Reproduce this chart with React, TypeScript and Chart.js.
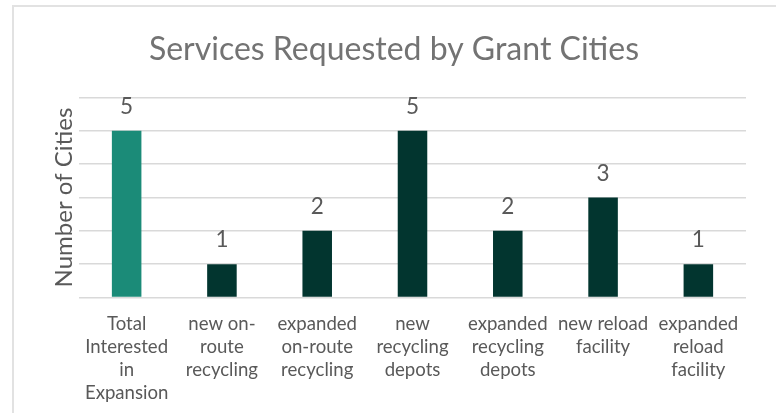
import React, { useEffect, useRef } from "react";
import { Chart, registerables } from "chart.js";

Chart.register(...registerables);

const titleText = "Services Requested by Grant Cities";
const yAxisTitle = "Number of Cities";
const categories: string[][] = [
  ["Total", "Interested", "in", "Expansion"],
  ["new on-", "route", "recycling"],
  ["expanded", "on-route", "recycling"],
  ["new", "recycling", "depots"],
  ["expanded", "recycling", "depots"],
  ["new reload", "facility"],
  ["expanded", "reload", "facility"],
];
const values: number[] = [5, 1, 2, 5, 2, 3, 1];
const barColors: string[] = ["#1b8b78", "#02352f", "#02352f", "#02352f", "#02352f", "#02352f", "#02352f"];
const yMin = 0;
const yMax = 6;
const yStep = 1;

const FONT = "Lato, 'Noto Sans', sans-serif";
const TEXT = "#595959";

const overlayPlugin = {
  id: "overlay",
  afterDatasetsDraw(chart: any) {
    const ctx = chart.ctx;
    ctx.save();
    // data labels
    const meta = chart.getDatasetMeta(0);
    ctx.fillStyle = TEXT;
    ctx.font = `22.5px ${FONT}`;
    ctx.textAlign = "center";
    ctx.textBaseline = "alphabetic";
    meta.data.forEach((bar: any, i: number) => {
      ctx.fillText(String(values[i]), bar.x, bar.y - 17);
    });
    // title
    ctx.fillStyle = "#737373";
    ctx.font = `32px ${FONT}`;
    ctx.fillText(titleText, 394, 60);
    // y axis title
    const area = chart.chartArea;
    ctx.translate(72, (area.top + area.bottom) / 2);
    ctx.rotate(-Math.PI / 2);
    ctx.fillStyle = TEXT;
    ctx.font = `24px ${FONT}`;
    ctx.fillText(yAxisTitle, 0, 0);
    ctx.restore();
  },
};

export default function App() {
  const ref = useRef<HTMLCanvasElement | null>(null);
  useEffect(() => {
    if (!ref.current) return;
    const chart = new Chart(ref.current, {
      type: "bar",
      data: {
        labels: categories,
        datasets: [
          {
            data: values,
            backgroundColor: barColors,
            categoryPercentage: 1,
            barPercentage: 0.31,
          },
        ],
      },
      options: {
        animation: false,
        responsive: false,
        maintainAspectRatio: false,
        layout: { padding: { left: 0, right: 30, top: 97.5, bottom: 0 } },
        plugins: {
          legend: { display: false },
          tooltip: { enabled: false },
          title: { display: false },
        },
        scales: {
          x: {
            grid: { display: false, drawTicks: false },
            border: { display: false },
            ticks: {
              autoSkip: false,
              maxRotation: 0,
              minRotation: 0,
              padding: 15,
              color: TEXT,
              font: { family: FONT, size: 18.6, lineHeight: 23 / 18.6 },
            },
            afterFit: (s: any) => {
              s.height = 413 - 297.5;
            },
          },
          y: {
            min: yMin,
            max: yMax,
            grid: { color: "#d9d9d9", lineWidth: 1.5, drawTicks: false },
            border: { display: false },
            ticks: { display: false, stepSize: yStep },
            afterFit: (s: any) => {
              s.width = 79;
            },
          },
        },
      },
      plugins: [overlayPlugin],
    });
    return () => chart.destroy();
  }, []);
  return (
    <div style={{ position: "fixed", left: 0, top: 0, width: 776, height: 413, background: "#fff" }}>
      <div
        style={{
          position: "absolute",
          left: 12,
          top: 5,
          width: 762,
          height: 420,
          borderLeft: "2px solid #e2e2e2",
          borderTop: "2px solid #e2e2e2",
          borderRight: "1px solid #e8e8e8",
        }}
      />
      <canvas ref={ref} width={776} height={413} style={{ position: "absolute", left: 0, top: 0 }} />
    </div>
  );
}
